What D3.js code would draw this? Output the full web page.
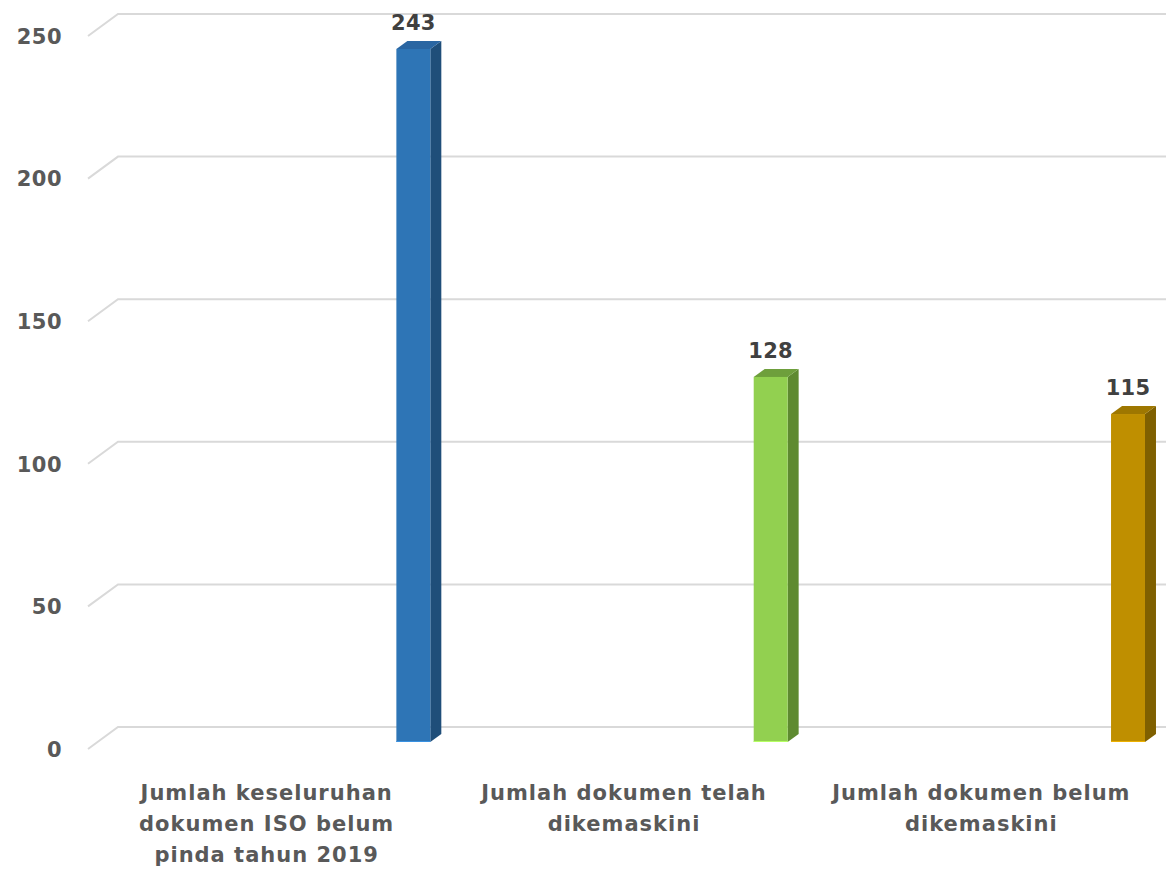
<!DOCTYPE html>
<html><head><meta charset="utf-8">
<script src="https://cdn.jsdelivr.net/npm/d3@7"></script>
<style>
html,body{margin:0;padding:0;background:#fff;}
svg{display:block;}
text{font-family:"DejaVu Sans",sans-serif;font-weight:bold;}
</style></head>
<body>
<svg id="chart" width="1166" height="871"></svg>
<script>
const categories = [
  "Jumlah keseluruhan dokumen ISO belum pinda tahun 2019",
  "Jumlah dokumen telah dikemaskini",
  "Jumlah dokumen belum dikemaskini"
];
const categoryLines = [
  ["Jumlah keseluruhan", "dokumen ISO belum", "pinda tahun 2019"],
  ["Jumlah dokumen telah", "dikemaskini"],
  ["Jumlah dokumen belum", "dikemaskini"]
];
const values = [243, 128, 115];
const tickValues = [0, 50, 100, 150, 200, 250];
const colorsFront = ["#2E75B6", "#92D050", "#BF8F00"];
const colorsSide  = ["#1F4E79", "#5E8A30", "#7F6000"];
const colorsTop   = ["#2A66A2", "#6E9F3C", "#9E7700"];

const svg = d3.select("#chart");
const W = 1166;
const floorDx = 30, floorDy = -22;      // depth of floor
const barOffDx = 10, barOffDy = -7;     // front of bar relative to front plane
const barDx = 11, barDy = -8;           // bar depth

const y = d3.scaleLinear().domain([0, 250]).range([749, 36]);
const x = d3.scaleBand().domain(categories).range([88, 1160]).padding(0);

// gridlines
const grid = svg.append("g");
tickValues.forEach(v => {
  const y0 = y(v);
  grid.append("path")
    .attr("d", `M88,${y0} L${88+floorDx},${y0+floorDy} L${W},${y0+floorDy}`)
    .attr("fill", "none").attr("stroke", "#d9d9d9").attr("stroke-width", 2);
});

// y tick labels via axis
const axis = d3.axisLeft(y).tickValues(tickValues).tickSize(0).tickPadding(0);
const ag = svg.append("g").attr("transform", "translate(62,0)").call(axis);
ag.select(".domain").remove();
ag.selectAll("text")
  .attr("fill", "#595959").style("font-size", "21px")
  .style("letter-spacing", "0.5px")
  .style("font-family", "'DejaVu Sans',sans-serif").style("font-weight", "bold")
  .attr("text-anchor", "end").attr("dy", "0.35em");

// bars
const bw = x.bandwidth();
const bars = svg.append("g");
categories.forEach((c, i) => {
  const v = values[i];
  const x0 = x(c) + bw * 0.835 + barOffDx;
  const w = bw * 0.095;
  const yTop = y(v) + barOffDy;
  const yBot = y(0) + barOffDy;
  // side
  bars.append("path")
    .attr("d", `M${x0+w},${yTop} L${x0+w+barDx},${yTop+barDy} L${x0+w+barDx},${yBot+barDy} L${x0+w},${yBot} Z`)
    .attr("fill", colorsSide[i]);
  // top
  bars.append("path")
    .attr("d", `M${x0},${yTop} L${x0+barDx},${yTop+barDy} L${x0+w+barDx},${yTop+barDy} L${x0+w},${yTop} Z`)
    .attr("fill", colorsTop[i]);
  // front
  bars.append("rect")
    .attr("x", x0).attr("y", yTop).attr("width", w).attr("height", yBot - yTop)
    .attr("fill", colorsFront[i]);
  bars.append("line")
    .attr("x1", x0).attr("x2", x0 + w).attr("y1", yBot - 0.5).attr("y2", yBot - 0.5)
    .attr("stroke", d3.color(colorsFront[i]).brighter(0.6)).attr("stroke-width", 1);
  // value label
  svg.append("text")
    .attr("x", x0 + w / 2).attr("y", yTop - 19)
    .attr("text-anchor", "middle").attr("fill", "#404040")
    .style("font-size", "21px").style("letter-spacing", "0.3px").text(v);
});

// category labels
categories.forEach((c, i) => {
  const cx = x(c) + bw / 2;
  const t = svg.append("text").attr("text-anchor", "middle")
    .attr("fill", "#595959").style("font-size", "21px").style("letter-spacing", "1px");
  categoryLines[i].forEach((line, j) => {
    t.append("tspan").attr("x", cx).attr("y", 800 + j * 31).text(line);
  });
});
</script>
</body></html>
